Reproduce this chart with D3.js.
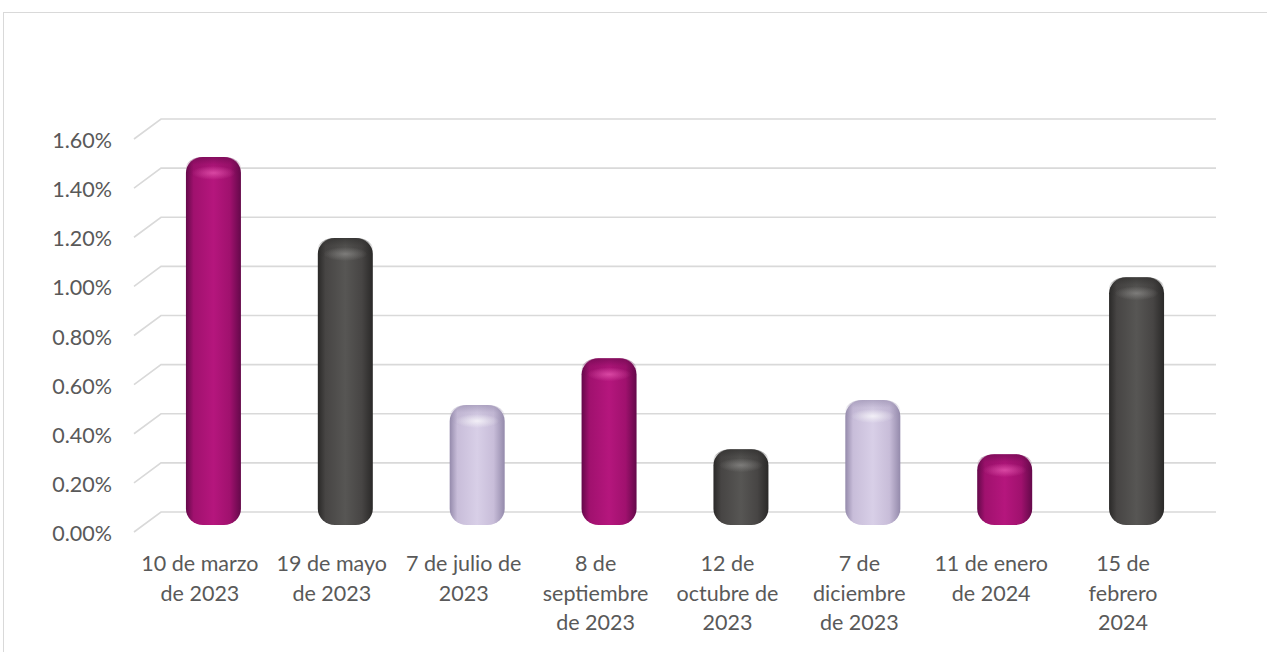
<!DOCTYPE html>
<html>
<head>
<meta charset="utf-8">
<script src="https://cdnjs.cloudflare.com/ajax/libs/d3/7.8.5/d3.min.js"></script>
<style>
  body { margin: 0; background: #fff; }
  svg { display: block; }
  .tick-label { font-family: Lato, "Open Sans", sans-serif; font-size: 21.5px; fill: #595959; }
</style>
</head>
<body>
<svg id="chart"></svg>
<script>
// chart values
const categories = [
  "10 de marzo\nde 2023",
  "19 de mayo\nde 2023",
  "7 de julio de\n2023",
  "8 de\nseptiembre\nde 2023",
  "12 de\noctubre de\n2023",
  "7 de\ndiciembre\nde 2023",
  "11 de enero\nde 2024",
  "15 de\nfebrero\n2024"
];
const values = [0.0147, 0.0114, 0.0046, 0.0065, 0.0028, 0.0048, 0.0026, 0.0098];
const barColors = ["magenta", "gray", "lavender", "magenta", "gray", "lavender", "magenta", "gray"];
const yTicks = [0, 0.002, 0.004, 0.006, 0.008, 0.010, 0.012, 0.014, 0.016];

const shades = {
  magenta:  { edge: "#64094a", mid: "#a0116e", center: "#b5167d", hi: "#ea5cb4" },
  gray:     { edge: "#2a2928", mid: "#474544", center: "#575654", hi: "#8e8d8b" },
  lavender: { edge: "#948aab", mid: "#c8bdd9", center: "#d8cfe7", hi: "#ffffff" }
};

const W = 1267, H = 652;
const depthX = 27, depthY = 20;          // 3D offset from front to back wall
const back = { left: 161, right: 1216, zero: 512, top: 119 };

const svg = d3.select("#chart").attr("width", W).attr("height", H);

// chart area border
svg.append("rect")
  .attr("x", 3.5).attr("y", 12.5)
  .attr("width", W + 20).attr("height", H + 20)
  .attr("fill", "none").attr("stroke", "#d9d9d9").attr("stroke-width", 1);

const yBack = d3.scaleLinear().domain([0, 0.016]).range([back.zero, back.top]);
const yMid = d3.scaleLinear().domain([0, 0.016]).range([back.zero + depthY / 2, back.top + depthY / 2]);
const xMid = d3.scaleBand().domain(categories)
  .range([back.left - depthX / 2, back.right - depthX / 2]);
const xFront = d3.scaleBand().domain(categories)
  .range([back.left - depthX, back.right - depthX]);

// gridlines (wall + floor step)
svg.append("g").selectAll("path").data(yTicks).enter()
  .append("path")
    .attr("d", d => `M${back.left - depthX},${yBack(d) + depthY} L${back.left},${yBack(d)} L${back.right},${yBack(d)}`)
    .attr("fill", "none")
    .attr("stroke", "#d9d9d9")
    .attr("stroke-width", 1.6);

// y labels
svg.append("g").selectAll("text").data(yTicks).enter()
  .append("text")
    .attr("class", "tick-label")
    .attr("x", 112)
    .attr("y", d => yBack(d) + depthY + 1)
    .attr("text-anchor", "end")
    .attr("dominant-baseline", "central")
    .text(d => d3.format(".2%")(d));

// gradients
const defs = svg.append("defs");
Object.keys(shades).forEach(k => {
  const s = shades[k];
  const g = defs.append("linearGradient").attr("id", "side-" + k)
    .attr("x1", 0).attr("x2", 1).attr("y1", 0).attr("y2", 0);
  [[0, s.edge], [0.14, s.mid], [0.5, s.center], [0.8, s.mid], [1, s.edge]]
    .forEach(([o, c]) => g.append("stop").attr("offset", o).attr("stop-color", c));
  const r = defs.append("radialGradient").attr("id", "hi-" + k);
  r.append("stop").attr("offset", 0).attr("stop-color", s.hi).attr("stop-opacity", 0.7);
  r.append("stop").attr("offset", 1).attr("stop-color", s.hi).attr("stop-opacity", 0);
  const t = defs.append("linearGradient").attr("id", "cap-" + k)
    .attr("x1", 0).attr("x2", 0).attr("y1", 0).attr("y2", 1);
  t.append("stop").attr("offset", 0).attr("stop-color", s.edge).attr("stop-opacity", 0.6);
  t.append("stop").attr("offset", 0.35).attr("stop-color", s.edge).attr("stop-opacity", 0.15);
  t.append("stop").attr("offset", 1).attr("stop-color", s.edge).attr("stop-opacity", 0);
});

// bars (cylinders)
const barW = 55, capR = 4;
const bars = svg.append("g").selectAll("g").data(categories).enter()
  .append("g");

bars.append("rect")
  .attr("x", d => xMid(d) + xMid.bandwidth() / 2 - barW / 2)
  .attr("y", (d, i) => yMid(values[i]) - capR)
  .attr("width", barW)
  .attr("height", (d, i) => yMid(0) + 3 - (yMid(values[i]) - capR))
  .attr("rx", 17).attr("ry", 16)
  .attr("fill", (d, i) => `url(#side-${barColors[i]})`);

// top cap darkening
bars.append("rect")
  .attr("x", d => xMid(d) + xMid.bandwidth() / 2 - barW / 2)
  .attr("y", (d, i) => yMid(values[i]) - capR)
  .attr("width", barW)
  .attr("height", 22)
  .attr("rx", 17).attr("ry", 16)
  .attr("fill", (d, i) => `url(#cap-${barColors[i]})`);

// top highlight
bars.append("ellipse")
  .attr("cx", d => xMid(d) + xMid.bandwidth() / 2)
  .attr("cy", (d, i) => yMid(values[i]) + 12)
  .attr("rx", 22).attr("ry", 7)
  .attr("fill", (d, i) => `url(#hi-${barColors[i]})`);

// category labels
const labels = svg.append("g").selectAll("text").data(categories).enter()
  .append("text")
    .attr("class", "tick-label")
    .attr("text-anchor", "middle")
    .attr("x", d => xFront(d) + xFront.bandwidth() / 2)
    .attr("y", 571);
labels.selectAll("tspan").data(d => d.split("\n")).enter()
  .append("tspan")
    .attr("x", function () { return this.parentNode.getAttribute("x"); })
    .attr("dy", (d, i) => i === 0 ? 0 : 29.5)
    .text(d => d);
</script>
</body>
</html>
